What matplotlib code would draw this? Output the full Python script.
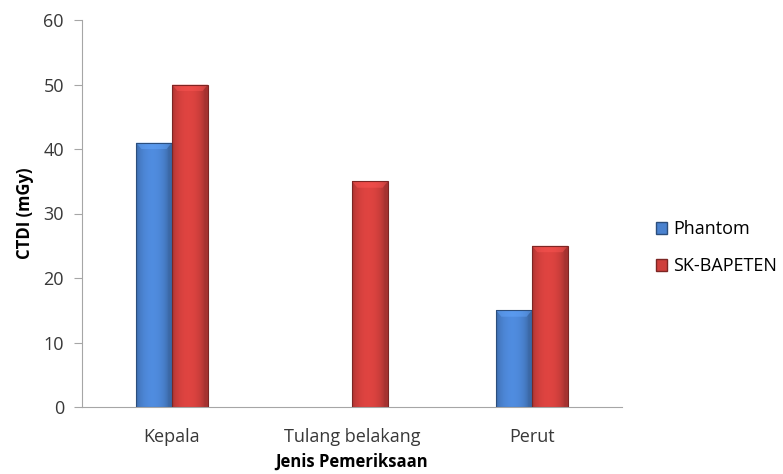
import matplotlib.pyplot as plt
import matplotlib.colors as mcolors
from matplotlib.patches import Patch
import numpy as np

plt.rcParams['font.family'] = ['Open Sans', 'DejaVu Sans']

categories = ['Kepala', 'Tulang belakang', 'Perut']
phantom = [41, np.nan, 15]
sk_bapeten = [50, 35, 25]

series = [('Phantom', phantom, '#4a82cf'), ('SK-BAPETEN', sk_bapeten, '#cf3f3c')]

fig = plt.figure(figsize=(7.83, 4.74), dpi=100)
ax = fig.add_axes([82 / 783, 1 - 407 / 474, 540 / 783, 387 / 474])

x = np.arange(len(categories))
width = 0.2


def shaded(ax, bars, color):
    # horizontal light/dark shading so the bars look rounded
    base = np.array(mcolors.to_rgb(color))
    t = np.linspace(0, 1, 64)
    shade = 0.8 + 0.28 * np.sin(np.pi * np.clip(t * 1.1, 0, 1)) ** 0.6
    row = np.clip(base[None, :] * shade[:, None], 0, 1)
    img = row[None, :, :]
    for b in bars:
        h = b.get_height()
        if not np.isfinite(h) or h <= 0:
            continue
        x0, w = b.get_x(), b.get_width()
        im = ax.imshow(img, extent=(x0, x0 + w, 0, h), aspect='auto',
                       origin='lower', zorder=2, interpolation='bilinear')
        im.set_clip_path(b)
        # lighter bevel at the top
        cap = min(1.0, h)
        top = np.clip(base * 1.2 + 0.05, 0, 1)
        ax.fill([x0, x0 + w, x0 + w * 0.85, x0 + w * 0.15],
                [h, h, h - cap, h - cap], color=top, alpha=0.45,
                lw=0, zorder=3)


for i, (name, vals, color) in enumerate(series):
    offs = (i - 0.5) * width
    bars = ax.bar(x + offs, vals, width, color=color,
                  edgecolor=mcolors.to_rgb(color) * np.array(0.6), linewidth=0.8,
                  zorder=4)
    for b in bars:
        b.set_facecolor('none')
    shaded(ax, bars, color)

ax.set_xlim(-0.5, 2.5)
ax.set_ylim(0, 60)
ax.set_yticks(range(0, 61, 10))
ax.set_xticks(x)
ax.set_xticklabels(categories)

for side in ['top', 'right']:
    ax.spines[side].set_visible(False)
for side in ['left', 'bottom']:
    ax.spines[side].set_color('#a6a6a6')
ax.tick_params(axis='y', colors='#a6a6a6', labelcolor='#383838',
               labelsize=13, length=6, pad=7)
ax.tick_params(axis='x', length=0, labelcolor='#383838', labelsize=13, pad=15)

ax.set_ylabel('CTDI (mGy)', fontsize=12, fontweight='bold', labelpad=7)
ax.set_xlabel('Jenis Pemeriksaan', fontsize=12, fontweight='bold', labelpad=5)

handles = [Patch(facecolor=c, edgecolor=mcolors.to_rgb(c) * np.array(0.6), label=n)
           for n, _, c in series]
fig.legend(handles=handles, loc='center left', bbox_to_anchor=(656 / 783, 0.477),
           frameon=False, fontsize=13, handlelength=0.6, handleheight=0.6,
           handletextpad=0.35, labelspacing=1.05, borderaxespad=0,
           borderpad=0)

fig.savefig('out.png', dpi=100)
